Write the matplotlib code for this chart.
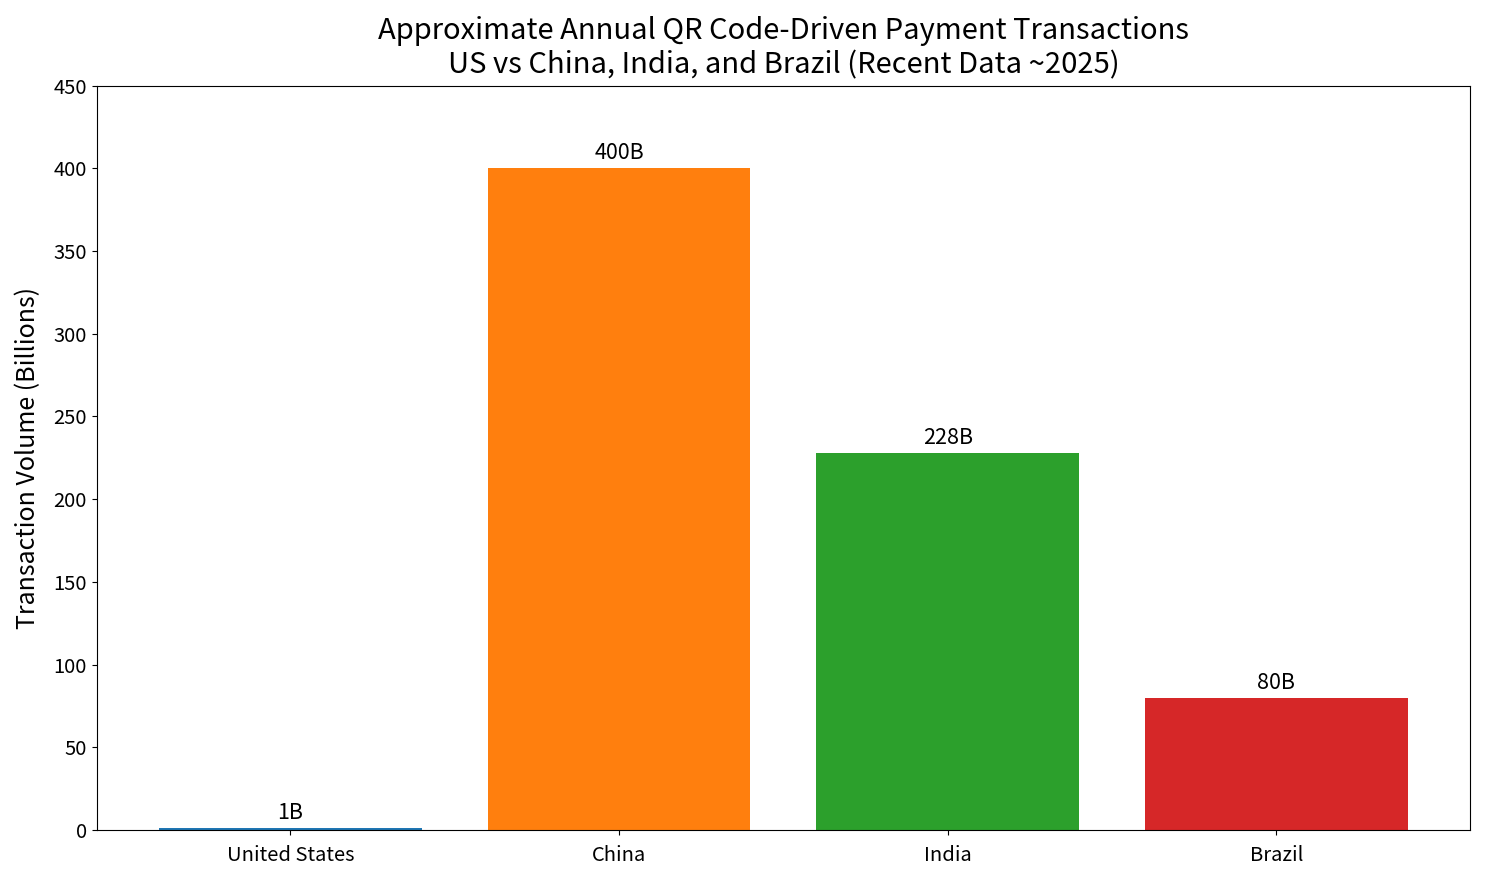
import matplotlib
matplotlib.use('Agg')
import matplotlib.pyplot as plt

plt.rcParams['font.family'] = ['Noto Sans CJK SC', 'DejaVu Sans']

# data (billions of transactions)
countries = ['United States', 'China', 'India', 'Brazil']
volumes = [1, 400, 228, 80]
labels = ['1B', '400B', '228B', '80B']
colors = ['#1f77b4', '#ff7f0e', '#2ca02c', '#d62728']

fig, ax = plt.subplots(figsize=(14.85, 8.83), dpi=100)
bars = ax.bar(countries, volumes, color=colors)

for b, lab in zip(bars, labels):
    ax.annotate(lab, (b.get_x() + b.get_width() / 2, b.get_height()),
                xytext=(0, 3), textcoords='offset points',
                ha='center', va='bottom', fontsize=15.5)

ax.set_ylim(0, 450)
ax.set_ylabel('Transaction Volume (Billions)', fontsize=18, labelpad=9)
ax.set_title('Approximate Annual QR Code-Driven Payment Transactions\n'
             'US vs China, India, and Brazil (Recent Data ~2025)',
             fontsize=21, pad=9)
ax.tick_params(labelsize=14.5)
ax.tick_params(axis='x', pad=7)

plt.subplots_adjust(left=0.065, right=0.99, top=0.903, bottom=0.06)
plt.savefig('out.png')
